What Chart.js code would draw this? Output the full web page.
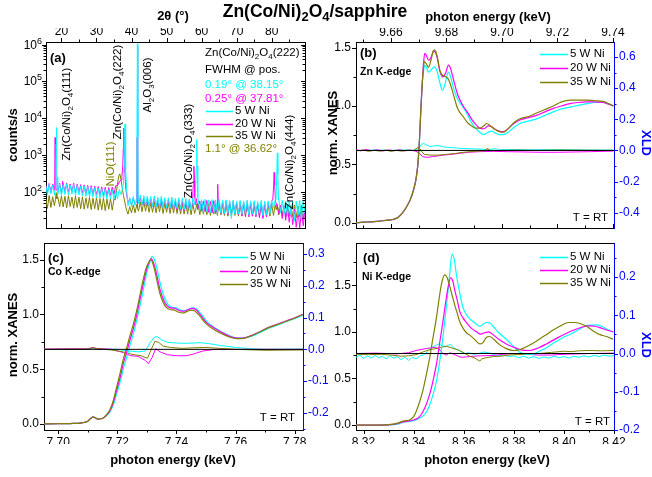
<!DOCTYPE html>
<html>
<head>
<meta charset="utf-8">
<script src="https://cdn.jsdelivr.net/npm/chart.js@4.4.1/dist/chart.umd.min.js"></script>
<style>
  html, body { margin: 0; padding: 0; background: #fff; }
  #wrap { position: relative; width: 652px; height: 477px; overflow: hidden; }
  #wrap canvas { position: absolute; left: 0; top: 0; }
</style>
</head>
<body>
<div id="wrap">
  <canvas id="cA" width="652" height="477"></canvas>
  <canvas id="cB" width="652" height="477"></canvas>
  <canvas id="cC" width="652" height="477"></canvas>
  <canvas id="cD" width="652" height="477"></canvas>
</div>
<script>
// ---------- (a) XRD, 2theta scan: background on a 0.5 deg grid + reflections ----------
const twoThetaStart = 15.5, twoThetaStep = 0.5;
const xrdBg5W = [
  150, 84, 162, 88, 155, 82, 118, 86, 165, 80,
  158, 85, 166, 83, 152, 88, 160, 80, 150, 82,
  146, 78, 142, 76, 138, 74, 134, 73, 130, 70,
  126, 69, 122, 67, 118, 65, 115, 64, 112, 63,
  110, 66, 115, 85, 135, 200, 110, 42, 70, 40,
  75, 43, 70, 48, 82, 45, 79, 43, 77, 42,
  75, 40, 78, 39, 72, 38, 76, 37, 70, 37,
  70, 36, 72, 35, 67, 36, 70, 34, 68, 33,
  67, 33, 65, 32, 68, 45, 70, 66, 31, 62,
  28, 63, 29, 61, 27, 62, 28, 60, 26, 63,
  27, 59, 26, 61, 26, 58, 19, 60, 25, 57,
  25, 59, 25, 56, 26, 60, 24, 57, 25, 58,
  24, 55, 26, 59, 23, 56, 24, 57, 26, 59,
  38, 62, 60, 66, 27, 59, 25, 57, 23, 58,
  24, 56, 16, 57, 23, 59, 18, 60, 26
];
const xrdBg20W = [
  160, 95, 170, 98, 165, 96, 120, 100, 172, 94,
  170, 98, 176, 96, 165, 100, 172, 95, 162, 96,
  158, 90, 155, 88, 150, 86, 148, 84, 144, 82,
  140, 80, 137, 78, 134, 77, 131, 80, 136, 86,
  148, 150, 185, 215, 400, 900, 100, 50, 66, 44,
  68, 46, 52, 47, 70, 44, 67, 42, 65, 41,
  64, 40, 67, 39, 63, 38, 65, 37, 62, 36,
  61, 35, 63, 34, 59, 33, 62, 32, 57, 31,
  59, 32, 61, 36, 60, 60, 66, 36, 57, 30,
  57, 29, 59, 28, 56, 27, 58, 26, 40, 52,
  26, 55, 25, 57, 24, 54, 23, 56, 25, 53,
  24, 54, 22, 52, 23, 55, 21, 51, 22, 53,
  21, 50, 20, 52, 19, 49, 21, 51, 28, 58,
  100, 150, 42, 26, 44, 19, 42, 17, 40, 15,
  36, 13, 34, 11, 32, 10.6, 30, 12, 34
];
const xrdBg35W = [
  68, 36, 80, 38, 74, 42, 80, 72, 40, 78,
  39, 76, 37, 79, 40, 73, 36, 77, 38, 72,
  35, 74, 34, 69, 36, 71, 33, 68, 35, 70,
  32, 66, 33, 69, 31, 64, 34, 67, 32, 66,
  70, 150, 300, 190, 85, 55, 38, 25, 40, 27,
  45, 27, 46, 30, 54, 29, 56, 30, 52, 28,
  51, 28, 53, 27, 50, 29, 52, 26, 49, 28,
  50, 26, 48, 27, 51, 26, 47, 25, 49, 25,
  48, 25, 47, 24, 49, 26, 40, 47, 24, 48,
  25, 47, 24, 49, 23, 46, 25, 48, 23, 47,
  24, 45, 23, 48, 22, 46, 24, 47, 23, 45,
  22, 46, 23, 47, 21, 45, 24, 48, 22, 44,
  23, 46, 22, 45, 21, 47, 23, 44, 22, 46,
  23, 45, 40, 24, 44, 22, 43, 21, 45, 22,
  43, 21, 44, 20, 42, 21, 43, 19, 41
];
// reflections measured at finer steps: [2theta, counts/s]
const xrdPeaks5W = [
  [[18.2,115],[18.4,300],[18.5,2000],[18.57,5600],[18.65,1500],[18.75,250],[18.9,125]],
  [[37.7,170],[37.9,500],[38.05,3000],[38.15,6900],[38.25,2500],[38.4,400],[38.6,120],[38.8,70]],
  [[41.4,62],[41.55,5000],[41.68,1050000],[41.8,3000],[41.9,60]],
  [[58.2,60],[58.45,400],[58.6,2650],[58.72,500],[58.9,70]],
  [[81.2,60],[81.45,300],[81.6,1150],[81.75,300],[81.95,62]]
];
const xrdPeaks20W = [
  [[18.0,112],[18.1,300],[18.2,3000],[18.3,400],[18.45,125]],
  [[20.2,125],[20.3,195],[20.4,120]],
  [[37.25,260],[37.5,500],[37.65,1500],[37.81,5400],[37.95,1300],[38.1,350],[38.3,150]],
  [[41.5,55],[41.6,3000],[41.68,900000],[41.76,2000],[41.85,55]],
  [[57.4,45],[57.6,150],[57.8,500],[57.95,200],[58.1,70],[58.3,45]],
  [[64.45,35],[64.6,160],[64.75,35]],
  [[80.3,60],[80.55,150],[80.7,340],[80.85,150],[81.1,55]]
];
const xrdPeaks35W = [
  [[18.3,62],[18.5,95],[18.7,66]],
  [[35.3,60],[35.6,90],[35.9,140],[36.2,220],[36.45,290],[36.62,310],[36.8,280],[37.1,190],[37.4,120],[37.7,80],[38.0,60],[38.3,42],[38.6,32]],
  [[41.6,38],[41.68,75],[41.76,36]],
  [[58.3,33],[58.6,46],[58.9,33]],
  [[81.3,33],[81.6,46],[81.9,33]]
];
const twoThetaTicks = [20, 30, 40, 50, 60, 70, 80];
const twoThetaMinor = [25, 35, 45, 55, 65, 75, 85];
const countTicks = [100, 1000, 10000, 100000, 1000000];

// ---------- (b) Zn K-edge: [energy keV, value] ----------
const znPreEdge = [[9.6474,0.0],[9.650,0.005],[9.653,0.008],[9.656,0.015],[9.659,0.022],[9.661,0.03],[9.6625,0.045],[9.664,0.08],[9.6655,0.13],[9.667,0.2],[9.668,0.27],[9.669,0.37],[9.6697,0.5],[9.6703,0.72],[9.6708,0.98],[9.6713,1.2]];
const znXanes5W = [[9.6718,1.31],[9.6722,1.35],[9.6728,1.33],[9.6736,1.29],[9.6745,1.31],[9.6756,1.335],[9.6766,1.3],[9.6776,1.2],[9.6786,1.135],[9.6796,1.2],[9.6807,1.29],[9.6815,1.25],[9.6825,1.16],[9.684,1.06],[9.686,0.99],[9.6875,0.93],[9.689,0.86],[9.6905,0.81],[9.692,0.775],[9.6935,0.755],[9.695,0.775],[9.6962,0.785],[9.6975,0.77],[9.699,0.755],[9.7005,0.755],[9.702,0.77],[9.7045,0.82],[9.7065,0.85],[9.7095,0.87],[9.7125,0.89],[9.7155,0.92],[9.7185,0.95],[9.7215,0.975],[9.7245,0.99],[9.7275,1.005],[9.7305,1.02],[9.7335,1.03],[9.7365,1.03],[9.7385,1.015],[9.7402,1.0]];
const znXanes20W = [[9.6718,1.38],[9.6722,1.45],[9.6728,1.43],[9.6736,1.39],[9.6745,1.42],[9.6755,1.47],[9.6765,1.43],[9.6776,1.3],[9.6786,1.25],[9.6797,1.28],[9.6807,1.35],[9.6815,1.32],[9.6825,1.23],[9.684,1.1],[9.686,1.0],[9.6875,0.95],[9.689,0.89],[9.6905,0.845],[9.692,0.81],[9.6935,0.805],[9.695,0.83],[9.6962,0.825],[9.6975,0.8],[9.699,0.785],[9.7005,0.78],[9.702,0.8],[9.7045,0.855],[9.7065,0.88],[9.7095,0.9],[9.7125,0.92],[9.7155,0.95],[9.7185,0.98],[9.7215,1.0],[9.7245,1.02],[9.7275,1.03],[9.7305,1.035],[9.7335,1.035],[9.7365,1.03],[9.7385,1.015],[9.7402,1.0]];
const znXanes35W = [[9.6718,1.35],[9.672,1.38],[9.6728,1.36],[9.6735,1.33],[9.6745,1.4],[9.6752,1.47],[9.6758,1.48],[9.6767,1.42],[9.6777,1.3],[9.6787,1.26],[9.6797,1.25],[9.6807,1.23],[9.6815,1.18],[9.6825,1.1],[9.684,0.98],[9.686,0.91],[9.6875,0.86],[9.689,0.83],[9.6905,0.81],[9.692,0.81],[9.6935,0.83],[9.6945,0.85],[9.6958,0.83],[9.6975,0.8],[9.699,0.78],[9.7005,0.775],[9.702,0.8],[9.7045,0.86],[9.7065,0.89],[9.7095,0.91],[9.7125,0.94],[9.7155,0.97],[9.7185,1.0],[9.7215,1.035],[9.7245,1.05],[9.7275,1.05],[9.7305,1.05],[9.7335,1.045],[9.7365,1.04],[9.7385,1.02],[9.7402,1.0]];
const znXld5W = [[9.6474,0.0],[9.655,0.002],[9.66,0.0],[9.665,0.003],[9.669,0.0],[9.6703,0.02],[9.671,0.04],[9.6718,0.045],[9.6728,0.035],[9.674,0.025],[9.676,0.03],[9.6775,0.03],[9.679,0.022],[9.682,0.018],[9.686,0.012],[9.69,0.01],[9.695,0.006],[9.698,0.012],[9.6985,0.003],[9.703,0.006],[9.71,0.004],[9.72,0.005],[9.73,0.003],[9.7402,0.002]];
const znXld20W = [[9.6474,0.005],[9.649,-0.003],[9.651,0.006],[9.653,-0.002],[9.655,0.004],[9.657,-0.004],[9.659,0.003],[9.661,-0.002],[9.663,0.004],[9.665,-0.003],[9.667,0.002],[9.669,-0.005],[9.6703,-0.02],[9.6715,-0.04],[9.673,-0.045],[9.675,-0.04],[9.677,-0.035],[9.679,-0.03],[9.682,-0.025],[9.685,-0.018],[9.688,-0.012],[9.692,-0.008],[9.697,-0.006],[9.702,-0.008],[9.708,-0.01],[9.714,-0.012],[9.72,-0.012],[9.726,-0.01],[9.732,-0.008],[9.7402,-0.004]];
const znXld35W = [[9.6474,-0.003],[9.65,0.002],[9.652,-0.006],[9.654,0.001],[9.656,-0.005],[9.658,0.002],[9.66,-0.006],[9.662,0.0],[9.664,-0.005],[9.666,0.002],[9.668,-0.002],[9.6698,0.02],[9.6705,0.01],[9.6712,-0.01],[9.672,-0.025],[9.674,-0.03],[9.677,-0.03],[9.68,-0.025],[9.683,-0.02],[9.686,-0.012],[9.69,-0.006],[9.694,-0.002],[9.6948,0.015],[9.6955,-0.002],[9.70,0.0],[9.706,0.002],[9.712,0.0],[9.72,0.002],[9.73,0.001],[9.7402,0.0]];
const znTicks = [9.66, 9.68, 9.70, 9.72, 9.74];
const znMinor = [9.65, 9.67, 9.69, 9.71, 9.73];

// ---------- (c) Co K-edge ----------
const coPreEdge = [[7.6952,0.0],[7.70,0.002],[7.704,0.004],[7.708,0.01],[7.710,0.025],[7.7112,0.055],[7.7118,0.065],[7.7126,0.055],[7.7135,0.045],[7.7145,0.048],[7.7155,0.06]];
const coXanes5W = [[7.7165,0.08],[7.7175,0.11],[7.7187,0.18],[7.7197,0.27],[7.721,0.39],[7.722,0.5],[7.7232,0.61],[7.7242,0.71],[7.7254,0.82],[7.7265,0.94],[7.7276,1.07],[7.7287,1.21],[7.7297,1.35],[7.7307,1.45],[7.7318,1.53],[7.7328,1.48],[7.7338,1.37],[7.7348,1.25],[7.736,1.15],[7.7372,1.09],[7.7385,1.065],[7.74,1.06],[7.7413,1.04],[7.7428,1.035],[7.7443,1.05],[7.7455,1.06],[7.7468,1.05],[7.7483,1.005],[7.7503,0.935],[7.7528,0.88],[7.7553,0.84],[7.7583,0.8],[7.7608,0.785],[7.7628,0.785],[7.7653,0.8],[7.7683,0.835],[7.7713,0.875],[7.7743,0.905],[7.7773,0.935],[7.7803,0.965],[7.7828,0.995]];
const coXanes20W = [[7.7165,0.085],[7.7175,0.12],[7.7187,0.2],[7.7197,0.3],[7.721,0.43],[7.722,0.55],[7.7232,0.66],[7.7242,0.76],[7.7254,0.87],[7.7265,0.99],[7.7276,1.13],[7.7287,1.27],[7.7297,1.39],[7.7305,1.46],[7.7315,1.51],[7.7325,1.45],[7.7335,1.34],[7.7345,1.22],[7.7357,1.13],[7.7368,1.08],[7.738,1.06],[7.7395,1.055],[7.741,1.035],[7.7425,1.03],[7.744,1.045],[7.7452,1.055],[7.7465,1.045],[7.748,1.0],[7.75,0.93],[7.7525,0.88],[7.755,0.84],[7.758,0.8],[7.7605,0.785],[7.7625,0.785],[7.765,0.805],[7.768,0.84],[7.771,0.88],[7.774,0.91],[7.777,0.94],[7.78,0.97],[7.7828,1.0]];
const coXanes35W = [[7.7165,0.09],[7.7175,0.13],[7.7187,0.22],[7.7197,0.33],[7.721,0.47],[7.722,0.59],[7.7232,0.7],[7.7242,0.8],[7.7254,0.91],[7.7265,1.03],[7.7276,1.17],[7.7287,1.31],[7.7297,1.42],[7.7305,1.47],[7.7313,1.50],[7.7323,1.44],[7.7333,1.32],[7.7343,1.2],[7.7355,1.11],[7.7366,1.065],[7.7378,1.045],[7.7393,1.04],[7.7408,1.02],[7.7423,1.015],[7.7438,1.03],[7.745,1.04],[7.7463,1.03],[7.7478,0.99],[7.7498,0.92],[7.7523,0.87],[7.7548,0.83],[7.7578,0.795],[7.7603,0.78],[7.7623,0.78],[7.7648,0.8],[7.7678,0.835],[7.7708,0.875],[7.7738,0.905],[7.7768,0.935],[7.7798,0.965],[7.7828,1.0]];
const coXld5W = [[7.6952,0.0],[7.71,0.0],[7.7118,0.004],[7.713,0.001],[7.72,0.0],[7.724,-0.005],[7.727,-0.008],[7.7295,-0.005],[7.731,0.02],[7.7325,0.038],[7.7335,0.04],[7.735,0.03],[7.737,0.022],[7.74,0.02],[7.743,0.019],[7.746,0.02],[7.748,0.021],[7.751,0.018],[7.755,0.012],[7.76,0.006],[7.765,0.002],[7.77,0.0],[7.7828,0.001]];
const coXld20W = [[7.6952,0.001],[7.705,0.002],[7.71,0.002],[7.7118,0.006],[7.713,0.003],[7.718,0.0],[7.722,-0.01],[7.7245,-0.02],[7.727,-0.022],[7.7295,-0.035],[7.7305,-0.045],[7.7318,-0.025],[7.733,0.002],[7.7345,-0.008],[7.737,-0.017],[7.74,-0.02],[7.7435,-0.02],[7.746,-0.014],[7.749,-0.005],[7.753,0.0],[7.76,0.0],[7.7828,0.0]];
const coXld35W = [[7.6952,0.0],[7.71,0.001],[7.7118,0.005],[7.713,0.002],[7.718,-0.002],[7.722,-0.008],[7.725,-0.016],[7.728,-0.02],[7.7302,-0.028],[7.7315,0.0],[7.7327,0.025],[7.734,0.022],[7.7355,0.01],[7.738,0.006],[7.742,0.003],[7.746,0.005],[7.75,0.006],[7.755,0.003],[7.76,0.0],[7.77,-0.003],[7.7828,-0.002]];
const coTicks = [7.70, 7.72, 7.74, 7.76, 7.78];
const coMinor = [7.71, 7.73, 7.75, 7.77];

// ---------- (d) Ni K-edge ----------
const niXanes5W = [[8.317,0.0],[8.325,0.0],[8.33,0.002],[8.3335,0.01],[8.336,0.03],[8.3385,0.04],[8.341,0.055],[8.343,0.085],[8.345,0.135],[8.347,0.26],[8.3491,0.47],[8.3505,0.7],[8.3517,0.94],[8.3528,1.2],[8.3537,1.43],[8.3545,1.65],[8.3553,1.83],[8.3562,1.78],[8.3571,1.61],[8.3584,1.42],[8.3597,1.26],[8.3617,1.16],[8.3637,1.11],[8.3652,1.08],[8.3664,1.06],[8.3677,1.08],[8.369,1.1],[8.3705,1.095],[8.3717,1.06],[8.374,0.99],[8.377,0.92],[8.38,0.84],[8.3824,0.78],[8.385,0.76],[8.3877,0.76],[8.39,0.79],[8.393,0.83],[8.3965,0.89],[8.3997,0.94],[8.403,0.98],[8.4064,1.03],[8.4091,1.07],[8.413,1.075],[8.415,1.06],[8.417,1.03],[8.4197,1.0]];
const niXanes20W = [[8.317,0.0],[8.325,0.0],[8.33,0.003],[8.3335,0.015],[8.336,0.035],[8.3385,0.045],[8.3405,0.06],[8.3424,0.09],[8.3444,0.18],[8.3464,0.33],[8.3478,0.48],[8.3491,0.65],[8.3504,0.88],[8.3517,1.11],[8.3527,1.3],[8.3537,1.47],[8.3548,1.58],[8.3557,1.54],[8.3564,1.45],[8.3575,1.33],[8.3584,1.22],[8.3597,1.15],[8.3611,1.10],[8.363,1.04],[8.3651,1.0],[8.3668,0.975],[8.3683,0.99],[8.37,1.0],[8.3717,0.97],[8.374,0.92],[8.377,0.87],[8.38,0.835],[8.3824,0.81],[8.3864,0.8],[8.39,0.83],[8.393,0.87],[8.397,0.93],[8.4011,0.985],[8.4045,1.025],[8.4077,1.055],[8.4104,1.065],[8.4125,1.06],[8.4144,1.045],[8.417,1.02],[8.4197,1.0]];
const niXanes35W = [[8.317,0.0],[8.325,0.0],[8.33,0.004],[8.3335,0.02],[8.336,0.045],[8.3384,0.055],[8.34,0.09],[8.3411,0.15],[8.3424,0.25],[8.3437,0.37],[8.345,0.53],[8.3464,0.72],[8.3477,0.93],[8.3491,1.15],[8.3501,1.34],[8.3511,1.51],[8.3524,1.61],[8.3534,1.58],[8.3544,1.49],[8.3554,1.39],[8.3564,1.29],[8.3574,1.2],[8.3584,1.11],[8.3597,1.04],[8.3611,0.99],[8.3624,0.965],[8.3637,0.935],[8.365,0.9],[8.3664,0.87],[8.3677,0.885],[8.369,0.94],[8.3703,0.95],[8.372,0.92],[8.3744,0.86],[8.377,0.82],[8.3797,0.8],[8.3824,0.81],[8.385,0.84],[8.389,0.9],[8.393,0.97],[8.3957,1.02],[8.3984,1.06],[8.4004,1.09],[8.4024,1.10],[8.4044,1.1],[8.4064,1.09],[8.409,1.06],[8.4117,1.01],[8.4144,0.97],[8.417,0.95],[8.4197,0.92]];
const niXld5W = [[8.317,-0.01],[8.3185,-0.004],[8.32,-0.013],[8.3215,-0.006],[8.323,-0.012],[8.3245,-0.005],[8.326,-0.011],[8.3275,-0.007],[8.329,-0.014],[8.3305,-0.006],[8.332,-0.012],[8.3335,-0.008],[8.335,-0.016],[8.3365,-0.009],[8.338,-0.018],[8.3395,-0.01],[8.341,-0.014],[8.3425,-0.006],[8.344,-0.004],[8.3455,0.005],[8.347,0.015],[8.3485,0.02],[8.35,0.025],[8.3515,0.02],[8.353,0.018],[8.3545,0.024],[8.356,0.015],[8.3575,0.01],[8.359,0.004],[8.3605,0.0],[8.362,0.002],[8.364,-0.002],[8.366,0.0],[8.368,0.004],[8.37,0.002],[8.372,-0.003],[8.374,-0.006],[8.376,-0.004],[8.378,-0.008],[8.38,-0.006],[8.382,-0.011],[8.384,-0.007],[8.386,-0.012],[8.388,-0.008],[8.39,-0.013],[8.392,-0.009],[8.394,-0.012],[8.396,-0.007],[8.398,-0.011],[8.4,-0.008],[8.402,-0.012],[8.404,-0.007],[8.406,-0.01],[8.408,-0.006],[8.41,-0.009],[8.412,-0.005],[8.414,-0.008],[8.416,-0.004],[8.418,-0.007],[8.42,-0.005]];
const niXld20W = [[8.317,0.0],[8.325,0.001],[8.333,-0.001],[8.338,0.002],[8.341,0.008],[8.345,0.013],[8.3485,0.016],[8.35,0.013],[8.3517,0.0],[8.353,-0.004],[8.3545,0.002],[8.356,-0.002],[8.3575,-0.006],[8.359,-0.01],[8.361,-0.009],[8.3637,-0.007],[8.367,-0.006],[8.3717,-0.005],[8.376,-0.002],[8.38,0.0],[8.385,-0.002],[8.39,-0.004],[8.395,-0.004],[8.40,-0.002],[8.41,0.0],[8.42,0.001]];
const niXld35W = [[8.317,-0.002],[8.322,-0.003],[8.327,-0.002],[8.331,-0.004],[8.335,-0.007],[8.338,-0.006],[8.341,-0.003],[8.3437,0.004],[8.3464,0.01],[8.349,0.013],[8.351,0.016],[8.353,0.019],[8.355,0.015],[8.3584,0.008],[8.3605,0.0],[8.3624,-0.007],[8.3645,-0.012],[8.3664,-0.02],[8.3672,-0.014],[8.369,-0.011],[8.372,-0.008],[8.375,-0.007],[8.378,-0.004],[8.38,-0.003],[8.385,-0.002],[8.39,0.0],[8.395,0.003],[8.40,0.006],[8.403,0.005],[8.406,0.007],[8.41,0.008],[8.415,0.007],[8.42,0.008]];
const niTicks = [8.32, 8.34, 8.36, 8.38, 8.40, 8.42];
const niMinor = [8.33, 8.35, 8.37, 8.39, 8.41];

const xanesTicks = [0.0, 0.5, 1.0, 1.5];
const xanesMinor = [0.25, 0.75, 1.25, 1.75];
const znXldTicks = [-0.4, -0.2, 0.0, 0.2, 0.4, 0.6];
const znXldMinor = [-0.5, -0.3, -0.1, 0.1, 0.3, 0.5];
const coXldTicks = [-0.2, -0.1, 0.0, 0.1, 0.2, 0.3];
const niXldTicks = [-0.2, -0.1, 0.0, 0.1, 0.2];
const xldMinor = [-0.25, -0.15, -0.05, 0.05, 0.15, 0.25];

const seriesNames = ['5 W Ni', '20 W Ni', '35 W Ni'];

// ---------- styling ----------
const FONT = '"Liberation Sans", Arial, Helvetica, sans-serif';
const CYAN = '#00ffff', MAGENTA = '#ff00ff', OLIVE = '#808000', BLUE = '#0000ff';
const seriesColors = [CYAN, MAGENTA, OLIVE];
Chart.defaults.font.family = FONT;
Chart.defaults.font.size = 12;
Chart.defaults.color = '#000';

const toPoints = arr => arr.map(([x, y]) => ({ x, y }));

function xrdSeries(bg, groups) {
  const pts = [];
  bg.forEach((v, i) => {
    const x = twoThetaStart + i * twoThetaStep;
    if (groups.some(g => x >= g[0][0] && x <= g[g.length - 1][0])) return;
    pts.push({ x, y: v });
  });
  groups.forEach(g => g.forEach(([x, y]) => pts.push({ x, y })));
  return pts.sort((a, b) => a.x - b.x);
}

function line(points, color, yAxisID, order, width, smooth) {
  return {
    data: points, borderColor: color, backgroundColor: color, borderWidth: width,
    pointRadius: 0, fill: false, xAxisID: 'x', yAxisID, order,
    tension: 0, cubicInterpolationMode: smooth ? 'monotone' : 'default'
  };
}

// text with _x (subscript) and ^x (superscript) markers
function rich(ctx, str, x, y, o) {
  const segs = [];
  for (let i = 0; i < str.length; i++) {
    let c = str[i], t = 'n';
    if ((c === '_' || c === '^') && i + 1 < str.length) { t = c === '_' ? 'sub' : 'sup'; c = str[++i]; }
    const last = segs[segs.length - 1];
    if (last && last.t === t) last.s += c; else segs.push({ t, s: c });
  }
  const font = sz => (o.bold ? 'bold ' : '') + sz + 'px ' + FONT;
  const sz = s => s.t === 'n' ? o.size : Math.round(o.size * 0.72);
  ctx.save();
  ctx.translate(x, y);
  if (o.angle) ctx.rotate(o.angle);
  ctx.textBaseline = 'middle';
  ctx.fillStyle = o.color || '#000';
  let w = 0;
  segs.forEach(s => { ctx.font = font(sz(s)); s.w = ctx.measureText(s.s).width; w += s.w; });
  let cx = o.align === 'center' ? -w / 2 : (o.align === 'right' ? -w : 0);
  segs.forEach(s => {
    ctx.font = font(sz(s));
    const dy = s.t === 'sub' ? o.size * 0.32 : (s.t === 'sup' ? -o.size * 0.4 : 0);
    ctx.fillText(s.s, cx, dy);
    cx += s.w;
  });
  ctx.restore();
}

// tick marks (major + minor), legend samples and annotation text
function decor(cfg) {
  return {
    id: 'decor',
    afterDraw(chart) {
      const ctx = chart.ctx, a = chart.chartArea;
      ctx.save();
      (cfg.ticks || []).forEach(t => {
        const sc = chart.scales[t.scale];
        ctx.strokeStyle = t.color || '#000';
        ctx.lineWidth = 1;
        ctx.beginPath();
        t.values.forEach(v => {
          if (v < sc.min || v > sc.max) return;
          const p = Math.round(sc.getPixelForValue(v)) + 0.5;
          const d = t.dir * t.len;
          if (t.side === 'bottom') { ctx.moveTo(p, a.bottom); ctx.lineTo(p, a.bottom + d); }
          if (t.side === 'top') { ctx.moveTo(p, a.top); ctx.lineTo(p, a.top - d); }
          if (t.side === 'left') { ctx.moveTo(a.left, p); ctx.lineTo(a.left - d, p); }
          if (t.side === 'right') { ctx.moveTo(a.right, p); ctx.lineTo(a.right + d, p); }
        });
        ctx.stroke();
      });
      if (cfg.legend) {
        const L = cfg.legend;
        seriesNames.forEach((name, i) => {
          const y = L.y[i];
          ctx.strokeStyle = seriesColors[i];
          ctx.lineWidth = 1.5;
          ctx.beginPath(); ctx.moveTo(L.x0, y + 0.5); ctx.lineTo(L.x1, y + 0.5); ctx.stroke();
          rich(ctx, name, L.x1 + 2, y, { size: 11.5 });
        });
      }
      if (cfg.extra) cfg.extra(chart, ctx, a);
      (cfg.texts || []).forEach(t => rich(ctx, t.s, t.x, t.y, t));
      ctx.restore();
    }
  };
}

function linAxis(o) {
  return {
    type: 'linear', position: o.position, min: o.min, max: o.max,
    grid: { display: false, drawTicks: false },
    border: { display: true, color: o.color || '#000', width: 1 },
    ticks: {
      display: !!o.fmt, padding: o.pad || 0, color: o.color || '#000',
      font: { family: FONT, size: 12 }, autoSkip: false, maxRotation: 0,
      callback: v => o.fmt ? o.fmt(v) : ''
    },
    afterBuildTicks: s => { s.ticks = (o.major || []).map(v => ({ value: v })); },
    afterFit: s => { if (s.isHorizontal()) s.height = o.size; else s.width = o.size; }
  };
}

const baseOptions = (padding, scales) => ({
  responsive: false, animation: false, events: [],
  layout: { padding },
  plugins: { legend: { display: false }, tooltip: { enabled: false } },
  scales
});

const f2 = v => v.toFixed(2), f1 = v => v.toFixed(1);
const rotL = -Math.PI / 2, rotR = Math.PI / 2;

// ---------- (a) XRD ----------
const logMinor = [];
[10, 100, 1000, 10000, 100000].forEach(d => { for (let k = 2; k <= 9; k++) logMinor.push(k * d); });
const logAxis = (position, size) => ({
  type: 'logarithmic', position, min: 10.5, max: 1.18e6,
  grid: { display: false, drawTicks: false },
  border: { display: true, color: '#000', width: 1 },
  ticks: { display: false },
  afterBuildTicks: s => { s.ticks = countTicks.map(v => ({ value: v })); },
  afterFit: s => { s.width = size; }
});

new Chart(document.getElementById('cA'), {
  type: 'line',
  data: { datasets: [
    line(xrdSeries(xrdBg35W, xrdPeaks35W), OLIVE, 'y', 3, 1, false),
    line(xrdSeries(xrdBg20W, xrdPeaks20W), MAGENTA, 'y', 2, 1, false),
    line(xrdSeries(xrdBg5W, xrdPeaks5W), CYAN, 'y', 1, 1, false)
  ] },
  options: baseOptions({ left: 0, top: 28, right: 341, bottom: 243 }, {
    x: linAxis({ position: 'bottom', min: 15.6, max: 89.5, major: twoThetaTicks, size: 6 }),
    xt: linAxis({ position: 'top', min: 15.6, max: 89.5, major: twoThetaTicks, size: 14, pad: 3, fmt: v => String(v) }),
    y: logAxis('left', 46),
    yr: logAxis('right', 6)
  }),
  plugins: [decor({
    ticks: [
      { scale: 'xt', side: 'top', values: twoThetaTicks, len: 4, dir: 1 },
      { scale: 'xt', side: 'top', values: twoThetaMinor, len: 2.5, dir: 1 },
      { scale: 'x', side: 'bottom', values: twoThetaTicks, len: 4, dir: -1 },
      { scale: 'x', side: 'bottom', values: twoThetaMinor, len: 2.5, dir: -1 },
      { scale: 'y', side: 'left', values: countTicks, len: 4, dir: 1 },
      { scale: 'y', side: 'left', values: logMinor, len: 2.5, dir: 1 },
      { scale: 'yr', side: 'right', values: countTicks, len: 4, dir: -1 },
      { scale: 'yr', side: 'right', values: logMinor, len: 2.5, dir: -1 }
    ],
    legend: { x0: 206, x1: 233, y: [111, 124, 136] },
    extra: (chart, ctx, a) => {
      const sc = chart.scales.y;
      countTicks.forEach(v => {
        rich(ctx, '10^' + Math.round(Math.log10(v)), a.left - 4, Math.round(sc.getPixelForValue(v)) + 1, { size: 12, align: 'right' });
      });
    },
    texts: [
      { s: 'Zn(Co/Ni)_2O_4/sapphire', x: 315, y: 12, size: 17.5, bold: true, align: 'center' },
      { s: '2θ (°)', x: 173, y: 16, size: 13, bold: true, align: 'center' },
      { s: 'counts/s', x: 13, y: 135, size: 13, bold: true, align: 'center', angle: rotL },
      { s: '(a)', x: 50, y: 58, size: 13, bold: true },
      { s: 'Zn(Co/Ni)_2O_4(111)', x: 67, y: 114, size: 11.5, align: 'center', angle: rotL },
      { s: 'Zn(Co/Ni)_2O_4(222)', x: 118, y: 92, size: 11.5, align: 'center', angle: rotL },
      { s: 'NiO(111)', x: 111, y: 164, size: 11.5, align: 'center', angle: rotL, color: OLIVE },
      { s: 'Al_2O_3(006)', x: 148, y: 85, size: 11.5, align: 'center', angle: rotL },
      { s: 'Zn(Co/Ni)_2O_4(333)', x: 189, y: 151, size: 11.5, align: 'center', angle: rotL },
      { s: 'Zn(Co/Ni)_2O_4(444)', x: 290, y: 162, size: 11.5, align: 'center', angle: rotL },
      { s: 'Zn(Co/Ni)_2O_4(222)', x: 205, y: 53, size: 11.5 },
      { s: 'FWHM @ pos.', x: 205, y: 70, size: 11.5 },
      { s: '0.19° @ 38.15°', x: 205, y: 85, size: 11.5, color: CYAN },
      { s: '0.25° @ 37.81°', x: 205, y: 99, size: 11.5, color: MAGENTA },
      { s: '1.1° @ 36.62°', x: 205, y: 149, size: 11.5, color: OLIVE }
    ]
  })]
});

// ---------- XANES / XLD panels ----------
function xanesPanel(id, p) {
  const datasets = [
    line([{ x: p.xmin, y: 0 }, { x: p.xmax, y: 0 }], '#000', 'yr', 0, 1, false),
    line(toPoints(p.xanes[2]), OLIVE, 'y', 1, 1.2, true),
    line(toPoints(p.xanes[1]), MAGENTA, 'y', 2, 1.2, true),
    line(toPoints(p.xanes[0]), CYAN, 'y', 3, 1.2, true),
    line(toPoints(p.xld[2]), OLIVE, 'yr', 4, 1, false),
    line(toPoints(p.xld[1]), MAGENTA, 'yr', 5, 1, false),
    line(toPoints(p.xld[0]), CYAN, 'yr', 6, 1, false)
  ];
  const labelTop = p.labelTop;
  new Chart(document.getElementById(id), {
    type: 'line',
    data: { datasets },
    options: baseOptions(p.padding, {
      x: linAxis({ position: 'bottom', min: p.xmin, max: p.xmax, major: p.xTicks, size: labelTop ? 6 : 14, pad: 5, fmt: labelTop ? null : f2 }),
      xt: linAxis({ position: 'top', min: p.xmin, max: p.xmax, major: labelTop ? p.xTicks : [], size: labelTop ? 14 : 2, pad: 2, fmt: labelTop ? f2 : null }),
      y: linAxis({ position: 'left', min: p.ymin, max: p.ymax, major: xanesTicks, size: 40, pad: 5, fmt: f1 }),
      yr: linAxis({ position: 'right', min: p.rmin, max: p.rmax, major: p.rTicks, size: 30, pad: 5, fmt: f1, color: BLUE })
    }),
    plugins: [decor({
      ticks: [
        labelTop
          ? { scale: 'xt', side: 'top', values: p.xTicks, len: 4, dir: 1 }
          : { scale: 'x', side: 'bottom', values: p.xTicks, len: 4, dir: 1 },
        labelTop
          ? { scale: 'xt', side: 'top', values: p.xMinor, len: 2.5, dir: 1 }
          : { scale: 'x', side: 'bottom', values: p.xMinor, len: 2.5, dir: 1 },
        ...(labelTop ? [
          { scale: 'x', side: 'bottom', values: p.xTicks, len: 4, dir: -1 },
          { scale: 'x', side: 'bottom', values: p.xMinor, len: 2.5, dir: -1 }
        ] : []),
        { scale: 'y', side: 'left', values: xanesTicks, len: 4, dir: 1 },
        { scale: 'y', side: 'left', values: xanesMinor, len: 2.5, dir: 1 },
        { scale: 'yr', side: 'right', values: p.rTicks, len: 4, dir: 1, color: BLUE },
        { scale: 'yr', side: 'right', values: p.rMinor, len: 2.5, dir: 1, color: BLUE }
      ],
      legend: p.legend,
      texts: p.texts
    })]
  });
}

xanesPanel('cB', {
  xmin: 9.6474, xmax: 9.7404, ymin: -0.045, ymax: 1.548, rmin: -0.498, rmax: 0.696,
  xTicks: znTicks, xMinor: znMinor, rTicks: znXldTicks, rMinor: znXldMinor, labelTop: true,
  padding: { left: 316, top: 28, right: 8, bottom: 243 },
  xanes: [znPreEdge.concat(znXanes5W), znPreEdge.concat(znXanes20W), znPreEdge.concat(znXanes35W)],
  xld: [znXld5W, znXld20W, znXld35W],
  legend: { x0: 540, x1: 568, y: [54, 68, 82] },
  texts: [
    { s: 'photon energy (keV)', x: 488, y: 17, size: 13, bold: true, align: 'center' },
    { s: 'norm. XANES', x: 333, y: 133, size: 13, bold: true, align: 'center', angle: rotL },
    { s: 'XLD', x: 646, y: 143, size: 13, bold: true, align: 'center', angle: rotR, color: BLUE },
    { s: '(b)', x: 360, y: 53, size: 13, bold: true },
    { s: 'Zn K-edge', x: 360, y: 72, size: 10.5, bold: true },
    { s: 'T = RT', x: 608, y: 218, size: 11.5, align: 'right' }
  ]
});

xanesPanel('cC', {
  xmin: 7.6952, xmax: 7.7828, ymin: -0.055, ymax: 1.652, rmin: -0.254, rmax: 0.335,
  xTicks: coTicks, xMinor: coMinor, rTicks: coXldTicks, rMinor: xldMinor, labelTop: false,
  padding: { left: 4, top: 241, right: 319, bottom: 33 },
  xanes: [coPreEdge.concat(coXanes5W), coPreEdge.concat(coXanes20W), coPreEdge.concat(coXanes35W)],
  xld: [coXld5W, coXld20W, coXld35W],
  legend: { x0: 220, x1: 248, y: [257, 271, 284] },
  texts: [
    { s: 'photon energy (keV)', x: 173, y: 460, size: 13, bold: true, align: 'center' },
    { s: 'norm. XANES', x: 13, y: 335, size: 13, bold: true, align: 'center', angle: rotL },
    { s: '(c)', x: 48, y: 258, size: 13, bold: true },
    { s: 'Co K-edge', x: 48, y: 272, size: 10.5, bold: true },
    { s: 'T = RT', x: 295, y: 418, size: 11.5, align: 'right' }
  ]
});

xanesPanel('cD', {
  xmin: 8.317, xmax: 8.42, ymin: -0.053, ymax: 1.953, rmin: -0.2, rmax: 0.289,
  xTicks: niTicks, xMinor: niMinor, rTicks: niXldTicks, rMinor: xldMinor, labelTop: false,
  padding: { left: 316, top: 241, right: 8, bottom: 33 },
  xanes: [niXanes5W, niXanes20W, niXanes35W],
  xld: [niXld5W, niXld20W, niXld35W],
  legend: { x0: 540, x1: 568, y: [257, 270, 283] },
  texts: [
    { s: 'photon energy (keV)', x: 487, y: 460, size: 13, bold: true, align: 'center' },
    { s: 'XLD', x: 646, y: 345, size: 13, bold: true, align: 'center', angle: rotR, color: BLUE },
    { s: '(d)', x: 363, y: 258, size: 13, bold: true },
    { s: 'Ni K-edge', x: 362, y: 277, size: 10.5, bold: true },
    { s: 'T = RT', x: 610, y: 422, size: 11.5, align: 'right' }
  ]
});
</script>
</body>
</html>
